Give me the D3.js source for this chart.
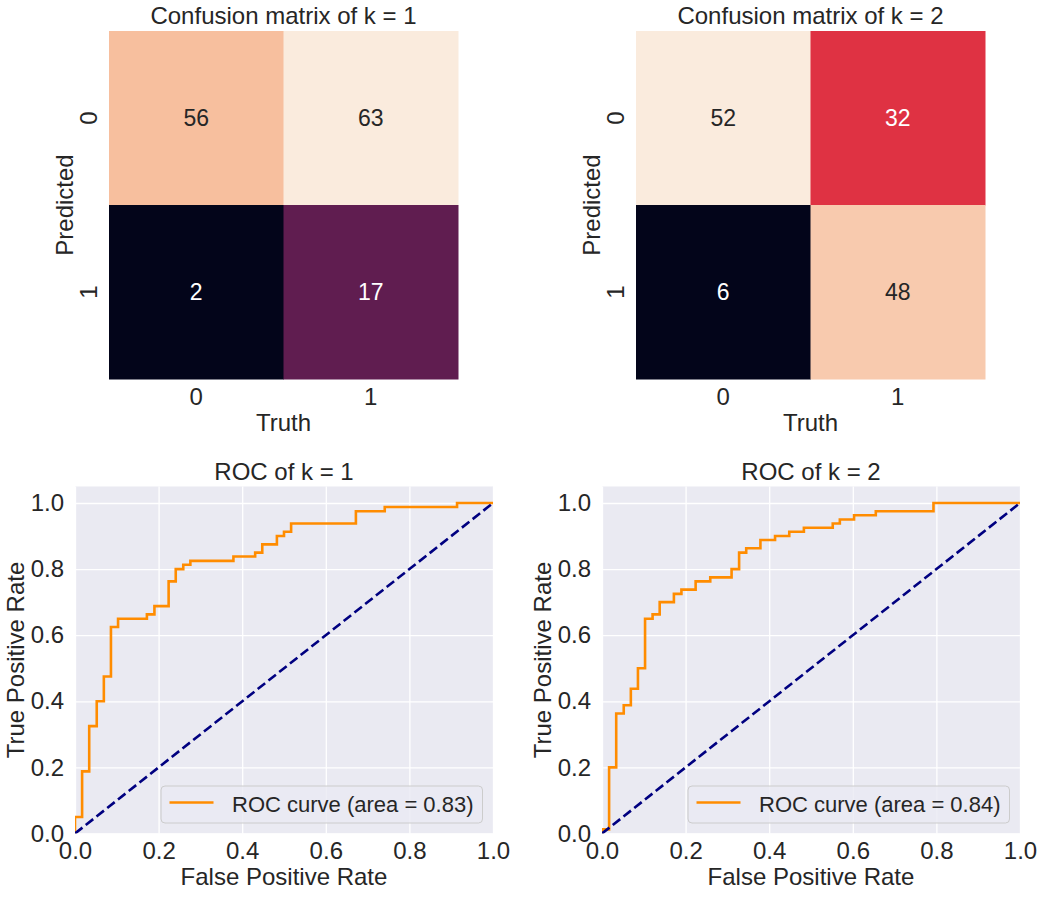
<!DOCTYPE html>
<html>
<head>
<meta charset="utf-8">
<script src="https://cdn.jsdelivr.net/npm/d3@7"></script>
<style>
  body { margin: 0; background: #fff; }
  text { font-family: "Liberation Sans", Arial, sans-serif; fill: #262626; }
</style>
</head>
<body>
<svg width="1042" height="898"></svg>
<script>
// confusion matrices (rows = predicted, cols = truth)
const cmK1 = [[56, 63], [2, 17]];
const cmK2 = [[52, 32], [6, 48]];
const cmLabels = ["0", "1"];

// ROC points (step after : fpr where tpr jumps, new tpr)
const rocK1Fpr = [0, 0, 0.017, 0.034, 0.052, 0.069, 0.086, 0.103, 0.172, 0.19, 0.224, 0.241, 0.259, 0.276, 0.379, 0.431, 0.448, 0.483, 0.5, 0.517, 0.672, 0.741, 0.914, 1];
const rocK1Tpr = [0, 0.05, 0.188, 0.325, 0.4, 0.475, 0.625, 0.65, 0.663, 0.688, 0.763, 0.8, 0.813, 0.825, 0.838, 0.85, 0.875, 0.9, 0.913, 0.938, 0.975, 0.988, 1, 1];
const rocK2Fpr = [0, 0, 0.017, 0.034, 0.052, 0.069, 0.086, 0.103, 0.121, 0.138, 0.172, 0.19, 0.224, 0.259, 0.31, 0.328, 0.345, 0.379, 0.414, 0.448, 0.483, 0.552, 0.569, 0.603, 0.655, 0.793, 1];
const rocK2Tpr = [0, 0.0125, 0.2, 0.363, 0.388, 0.438, 0.5, 0.65, 0.663, 0.7, 0.725, 0.738, 0.763, 0.775, 0.8, 0.85, 0.863, 0.888, 0.9, 0.913, 0.925, 0.938, 0.95, 0.963, 0.975, 1, 1];
const aucValues = [0.83, 0.84];
const chanceX = [0, 1];
const chanceY = [0, 1];
const rocTicks = [0, 0.2, 0.4, 0.6, 0.8, 1.0];

// seaborn "rocket" colormap stops
const rocketStops = ["#03051a", "#35193e", "#701f57", "#ad1759", "#e13342", "#f37651", "#f6b48f", "#faebdd"];

const svg = d3.select("svg");

const drawHeatmap = (matrix, title, left, top, w, h) => {
    const g = svg.append("g").attr("transform", `translate(${left},${top})`);
    const x = d3.scaleBand().domain(cmLabels).range([0, w]);
    const y = d3.scaleBand().domain(cmLabels).range([0, h]);
    const vals = matrix.flat();
    const vmin = d3.min(vals), vmax = d3.max(vals);
    const color = d3.scaleLinear()
        .domain(rocketStops.map((_, i) => vmin + i / (rocketStops.length - 1) * (vmax - vmin)))
        .range(rocketStops);

    const cells = [];
    matrix.forEach((row, i) => row.forEach((v, j) => cells.push({ r: cmLabels[i], c: cmLabels[j], v })));

    g.selectAll("rect")
        .data(cells)
        .enter()
        .append("rect")
        .attr("x", d => x(d.c))
        .attr("y", d => y(d.r))
        .attr("width", x.bandwidth() + 0.5)
        .attr("height", y.bandwidth() + 0.5)
        .attr("fill", d => color(d.v));

    // text colour like seaborn : dark on light cells, white on dark ones
    const lum = c => {
        const rgb = d3.rgb(c);
        const f = v => { v /= 255; return v <= 0.03928 ? v / 12.92 : Math.pow((v + 0.055) / 1.055, 2.4); };
        return 0.2126 * f(rgb.r) + 0.7152 * f(rgb.g) + 0.0722 * f(rgb.b);
    };

    g.selectAll("text.annot")
        .data(cells)
        .enter()
        .append("text")
        .attr("class", "annot")
        .attr("x", d => x(d.c) + x.bandwidth() / 2)
        .attr("y", d => y(d.r) + y.bandwidth() / 2)
        .attr("text-anchor", "middle")
        .attr("dominant-baseline", "central")
        .style("font-size", "23px")
        .style("fill", d => lum(color(d.v)) > 0.408 ? "#262626" : "#ffffff")
        .text(d => d.v);

    // x ticks
    const xAxis = g.append("g")
        .attr("transform", `translate(0,${h})`)
        .call(d3.axisBottom(x).tickSize(0).tickPadding(9));
    xAxis.select(".domain").remove();
    xAxis.selectAll("text").style("font-size", "24px").attr("font-family", null);

    // y ticks, rotated
    const yAxis = g.append("g")
        .call(d3.axisLeft(y).tickSize(0));
    yAxis.select(".domain").remove();
    yAxis.selectAll("text")
        .style("font-size", "24px")
        .attr("font-family", null)
        .attr("text-anchor", "middle")
        .attr("x", -12)
        .attr("dy", null)
        .attr("transform", "rotate(-90,-12,0)");

    g.append("text")
        .attr("x", w / 2)
        .attr("y", -7)
        .attr("text-anchor", "middle")
        .style("font-size", "24px")
        .text(title);

    g.append("text")
        .attr("x", w / 2)
        .attr("y", h + 52)
        .attr("text-anchor", "middle")
        .style("font-size", "24px")
        .text("Truth");

    g.append("text")
        .attr("transform", `translate(-36,${h / 2}) rotate(-90)`)
        .attr("text-anchor", "middle")
        .style("font-size", "24px")
        .text("Predicted");
};

const drawRoc = (fpr, tpr, auc, title, left, top, w, h, id) => {
    const g = svg.append("g").attr("transform", `translate(${left},${top})`);
    const x = d3.scaleLinear().domain([0, 1]).range([0, w]);
    const y = d3.scaleLinear().domain([0, 1.05]).range([h, 0]);

    g.append("clipPath")
        .attr("id", id)
        .append("rect")
        .attr("width", w)
        .attr("height", h);

    g.append("rect")
        .attr("width", w)
        .attr("height", h)
        .attr("fill", "#eaeaf2");

    // grid + tick labels
    const xAxis = g.append("g")
        .attr("transform", `translate(0,${h})`)
        .call(d3.axisBottom(x).tickValues(rocTicks).tickFormat(d3.format(".1f")).tickSize(-h).tickPadding(8.5));
    const yAxis = g.append("g")
        .call(d3.axisLeft(y).tickValues(rocTicks).tickFormat(d3.format(".1f")).tickSize(-w).tickPadding(11));
    [xAxis, yAxis].forEach(a => {
        a.select(".domain").remove();
        a.selectAll("line").attr("stroke", "#ffffff").attr("stroke-width", 1.3);
        a.selectAll("text").style("font-size", "24px").attr("font-family", null);
    });

    const plot = g.append("g").attr("clip-path", `url(#${id})`);

    const points = fpr.map((f, i) => [f, tpr[i]]);
    plot.append("path")
        .datum(points)
        .attr("fill", "none")
        .attr("stroke", "darkorange")
        .attr("stroke-width", 2.6)
        .attr("d", d3.line().x(d => x(d[0])).y(d => y(d[1])).curve(d3.curveStepAfter));

    plot.append("path")
        .datum(chanceX.map((v, i) => [v, chanceY[i]]))
        .attr("fill", "none")
        .attr("stroke", "navy")
        .attr("stroke-width", 2.6)
        .attr("stroke-dasharray", "9.5,4.2")
        .attr("d", d3.line().x(d => x(d[0])).y(d => y(d[1])));

    g.append("text")
        .attr("x", w / 2)
        .attr("y", -7)
        .attr("text-anchor", "middle")
        .style("font-size", "24px")
        .text(title);

    g.append("text")
        .attr("x", w / 2)
        .attr("y", h + 51.5)
        .attr("text-anchor", "middle")
        .style("font-size", "24px")
        .text("False Positive Rate");

    g.append("text")
        .attr("transform", `translate(-51,${h / 2}) rotate(-90)`)
        .attr("text-anchor", "middle")
        .style("font-size", "24px")
        .text("True Positive Rate");

    // legend, lower right
    const leg = g.append("g");
    const legBox = leg.append("rect")
        .attr("rx", 4)
        .attr("fill", "#eaeaf2")
        .attr("fill-opacity", 0.8)
        .attr("stroke", "#cccccc")
        .attr("stroke-width", 1);
    const legText = leg.append("text")
        .attr("x", 71)
        .attr("y", 18.5)
        .attr("dominant-baseline", "central")
        .style("font-size", "22px")
        .text(`ROC curve (area = ${auc.toFixed(2)})`);
    leg.append("line")
        .attr("x1", 8.5).attr("x2", 52.5)
        .attr("y1", 16.5).attr("y2", 16.5)
        .attr("stroke", "darkorange")
        .attr("stroke-width", 2.6);
    const legW = 71 + legText.node().getComputedTextLength() + 9;
    const legH = 37;
    legBox.attr("width", legW).attr("height", legH);
    leg.attr("transform", `translate(${w - 10.5 - legW},${h - 10.5 - legH})`);
};

drawHeatmap(cmK1, "Confusion matrix of k = 1", 109, 31, 349, 348);
drawHeatmap(cmK2, "Confusion matrix of k = 2", 636, 31, 349, 348);
drawRoc(rocK1Fpr, rocK1Tpr, aucValues[0], "ROC of k = 1", 75, 486.5, 418, 347, "clip1");
drawRoc(rocK2Fpr, rocK2Tpr, aucValues[1], "ROC of k = 2", 602, 486.5, 418, 347, "clip2");
</script>
</body>
</html>
